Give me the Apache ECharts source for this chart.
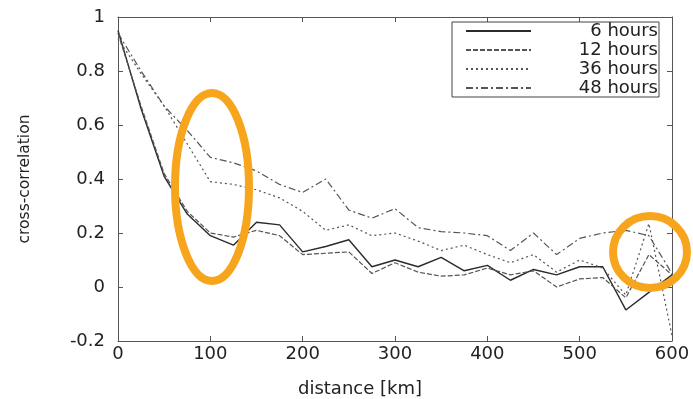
<!DOCTYPE html>
<html>
<head>
<meta charset="utf-8">
<script src="https://cdn.jsdelivr.net/npm/echarts@6/dist/echarts.min.js"></script>
<style>html,body{margin:0;padding:0;background:#fff}#c{width:693px;height:399px}</style>
</head>
<body>
<div id="c"></div>
<script>
var distances = [0,25,50,75,100,125,150,175,200,225,250,275,300,325,350,375,400,425,450,475,500,525,550,575,600];
var h6  = [0.95,0.66,0.41,0.27,0.19,0.155,0.24,0.23,0.13,0.15,0.175,0.075,0.10,0.075,0.11,0.06,0.08,0.025,0.065,0.045,0.075,0.075,-0.085,-0.02,0.045];
var h12 = [0.94,0.67,0.42,0.28,0.20,0.185,0.21,0.19,0.12,0.125,0.13,0.05,0.09,0.055,0.04,0.045,0.07,0.045,0.06,0.0,0.03,0.035,-0.04,0.12,0.045];
var h36 = [0.92,0.79,0.67,0.53,0.39,0.38,0.36,0.33,0.28,0.21,0.23,0.19,0.20,0.17,0.135,0.155,0.12,0.09,0.12,0.055,0.10,0.07,-0.03,0.235,-0.18];
var h48 = [0.94,0.80,0.67,0.58,0.48,0.46,0.43,0.38,0.35,0.40,0.285,0.255,0.29,0.22,0.205,0.20,0.19,0.135,0.20,0.12,0.18,0.20,0.21,0.19,0.05];
var seriesNames = ['6 hours','12 hours','36 hours','48 hours'];
var yTicks = [-0.2,0,0.2,0.4,0.6,0.8,1];
var xTicks = [0,100,200,300,400,500,600];

function pairs(v){ return distances.map(function(d,i){ return [d, v[i]]; }); }

var chart = echarts.init(document.getElementById('c'), null, {renderer:'canvas'});
var axisCol = '#555';
var font = 'DejaVu Sans, sans-serif';
var styles = [
  {color:'#2a2a2a', width:1.4, type:'solid'},
  {color:'#555', width:1.2, type:[5,2]},
  {color:'#555', width:1.2, type:[2,3]},
  {color:'#555', width:1.2, type:[7,3,2,3]}
];
var data = [h6,h12,h36,h48];

chart.setOption({
  backgroundColor:'#fff',
  animation:false,
  grid:{left:118, right:21, top:17, bottom:58, containLabel:false, outerBoundsMode:'none'},
  legend:{
    orient:'vertical', left:452, top:22,
    padding:[0,1,0,13], itemGap:1, itemWidth:65, itemHeight:14,
    borderColor:'#444', borderWidth:1, backgroundColor:'#fff',
    itemStyle:{opacity:0},
    data: seriesNames,
    formatter:function(n){ return '{a|' + n + '}'; },
    textStyle:{ rich:{ a:{ width:122, align:'right', fontSize:18, lineHeight:18, color:'#222', fontFamily:font } } }
  },
  xAxis:[
    {type:'value', min:xTicks[0], max:xTicks[xTicks.length-1], interval:100,
     name:'distance [km]', nameLocation:'middle', nameGap:39,
     nameTextStyle:{fontSize:18, color:'#222', fontFamily:font, padding:[0,70,0,0]},
     axisLine:{onZero:false, lineStyle:{color:axisCol, width:1}},
     axisTick:{inside:true, length:5, lineStyle:{color:axisCol}},
     axisLabel:{fontSize:18, color:'#222', margin:4, fontFamily:font},
     splitLine:{show:false}},
    {type:'value', position:'top', min:0, max:600, interval:100,
     axisLine:{onZero:false, lineStyle:{color:axisCol, width:1}},
     axisTick:{inside:true, length:5, lineStyle:{color:axisCol}},
     axisLabel:{show:false}, splitLine:{show:false}}
  ],
  yAxis:[
    {type:'value', min:yTicks[0], max:yTicks[yTicks.length-1], interval:0.2,
     name:'cross-correlation', nameLocation:'middle', nameGap:85,
     nameTextStyle:{fontSize:15.5, color:'#222', fontFamily:font},
     axisLine:{show:true, onZero:false, lineStyle:{color:axisCol, width:1}},
     axisTick:{show:true, inside:true, length:5, lineStyle:{color:axisCol}},
     axisLabel:{fontSize:18, color:'#222', margin:13, fontFamily:font},
     splitLine:{show:false}},
    {type:'value', position:'right', min:-0.2, max:1, interval:0.2,
     axisLine:{show:true, onZero:false, lineStyle:{color:axisCol, width:1}},
     axisTick:{show:true, inside:true, length:5, lineStyle:{color:axisCol}},
     axisLabel:{show:false}, splitLine:{show:false}}
  ],
  series: seriesNames.map(function(n,i){
    return {name:n, type:'line', symbol:'none', data:pairs(data[i]),
      lineStyle:styles[i], itemStyle:{color:styles[i].color}, z:3};
  }),
  graphic:[
    {type:'ellipse', shape:{cx:212, cy:187, rx:37, ry:94}, style:{fill:null, stroke:'#F8A51E', lineWidth:8}, z:10},
    {type:'ellipse', shape:{cx:650, cy:252, rx:37, ry:36}, style:{fill:null, stroke:'#F8A51E', lineWidth:8}, z:10}
  ]
});
</script>
</body>
</html>
